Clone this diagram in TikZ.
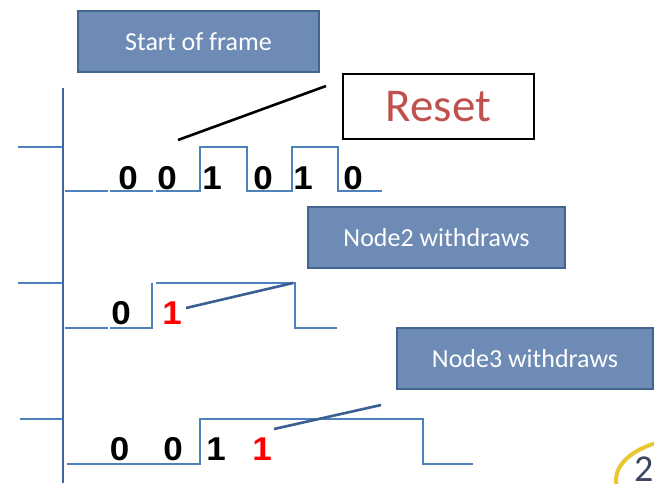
\documentclass[tikz,border=0pt]{standalone}
\usepackage{fontspec}
\setmainfont{Carlito}
\newfontfamily\digitfont[FakeStretch=1.06]{Liberation Sans}
\definecolor{boxfill}{HTML}{6D8BB5}
\definecolor{boxedge}{HTML}{41658F}
\definecolor{wave}{HTML}{4F81BD}
\definecolor{axis}{HTML}{41649A}
\definecolor{conn}{HTML}{3A6091}
\definecolor{resetred}{HTML}{C0504D}
\definecolor{logoyellow}{HTML}{E8C830}
\definecolor{logonavy}{HTML}{3C4660}
\begin{document}
\begin{tikzpicture}[x=1pt,y=-1pt,
  bluebox/.style={draw=boxedge, line width=1.8pt, fill=boxfill, text=white,
    font=\fontsize{26}{30}\selectfont, inner sep=0pt},
  resetbox/.style={draw=black, line width=2.2pt, fill=white, text=resetred,
    font=\fontsize{47}{52}\selectfont, inner sep=0pt},
  bit/.style={font=\digitfont\bfseries\fontsize{33}{36}\selectfont, anchor=base, inner sep=0pt},
  redbit/.style={bit, text=red},
  wavel/.style={draw=wave, line width=1.6pt},
  axisl/.style={draw=axis, line width=2.2pt},
  connl/.style={draw=conn, line width=2.6pt},
  resetl/.style={draw=black, line width=2.6pt}]
\clip (0,0) rectangle (654,483);
\fill[white] (0,0) rectangle (654,483);

% boxes
\node[bluebox, minimum width=241pt, minimum height=61pt] (sof) at (198.5,41.5) {Start of frame};
\node[resetbox, minimum width=191pt, minimum height=65pt] (reset) at (438.5,106.5) {Reset};
\node[bluebox, minimum width=257pt, minimum height=61pt] (n2) at (436.5,237.5) {Node2 withdraws};
\node[bluebox, minimum width=256pt, minimum height=61pt] (n3) at (525,358.5) {Node3 withdraws};

% axis
\draw[axisl] (63,88) -- (63,483);

% row 1
\draw[wavel] (18,147) -- (63,147);
\draw[wavel] (65,191) -- (108,191);
\draw[wavel] (110,191) -- (153,191);
\draw[wavel] (156,191) -- (200,191) -- (200,147) -- (247,147) -- (247,191) -- (292,191)
  -- (292,147) -- (338,147) -- (338,191) -- (382,191);
\node[bit] (r1a) at (128,189) {0};
\node[bit] (r1b) at (167,189) {0};
\node[bit] (r1c) at (212,189) {1};
\node[bit] (r1d) at (263,189) {0};
\node[bit] (r1e) at (303,189) {1};
\node[bit] (r1f) at (353,189) {0};
\coordinate (rs1) at (178,140);
\coordinate (rs2) at (326,86);
\draw[resetl] (rs1) -- (rs2);

% row 2
\draw[wavel] (18,283) -- (63,283);
\draw[wavel] (65,328) -- (108,328);
\draw[wavel] (110,328) -- (152,328) -- (152,283);
\draw[wavel] (156,283) -- (295,283) -- (295,328) -- (337,328);
\node[bit] (r2a) at (121,324) {0};
\node[redbit] (r2b) at (172,324) {1};
\coordinate (c2a) at (186,308);
\coordinate (c2b) at (293,283);
\draw[connl] (c2a) -- (c2b);

% row 3
\draw[wavel] (20,419) -- (63,419);
\draw[wavel] (67,464) -- (200,464) -- (200,419) -- (423,419) -- (423,464) -- (473,464);
\node[bit] (r3a) at (119.5,460) {0};
\node[bit] (r3b) at (173,460) {0};
\node[bit] (r3c) at (216,460) {1};
\node[redbit] (r3d) at (262,460) {1};
\coordinate (c3a) at (274,429);
\coordinate (c3b) at (381,405);
\draw[connl] (c3a) -- (c3b);

% partial logo
\draw[logoyellow, line width=4pt] (692,480) ellipse [x radius=76pt, y radius=42pt];
\node[text=logonavy, font=\fontsize{38}{42}\selectfont, anchor=base west, inner sep=0pt] (logo) at (634,481) {2};
\end{tikzpicture}
\end{document}
